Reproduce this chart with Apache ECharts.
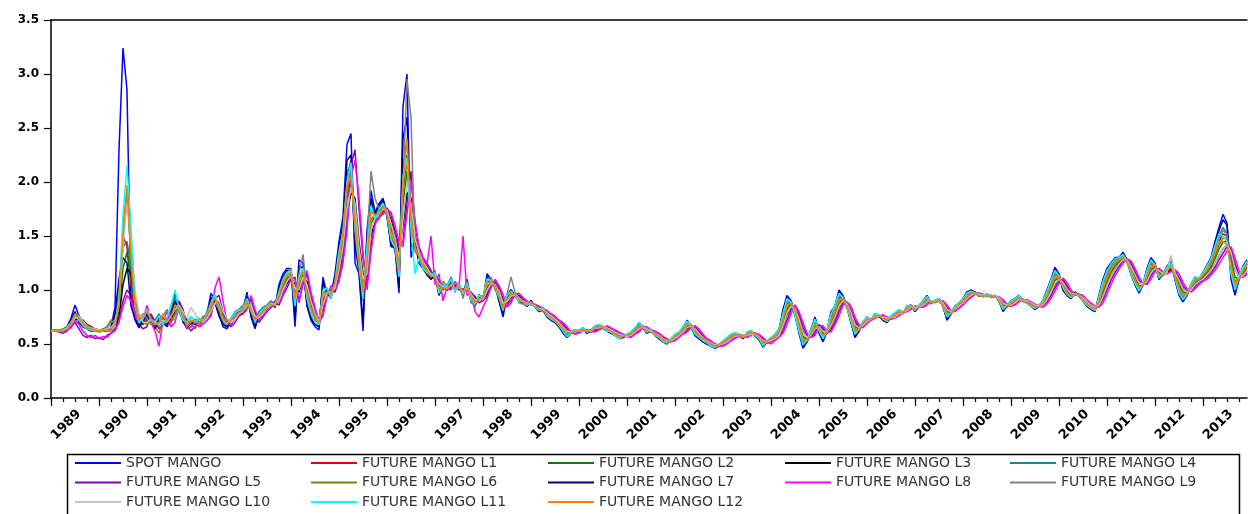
<!DOCTYPE html>
<html>
<head>
<meta charset="utf-8">
<script src="https://cdn.jsdelivr.net/npm/echarts@6/dist/echarts.min.js"></script>
<style>html,body{margin:0;padding:0;background:#fff;}#c{width:1248px;height:514px;}</style>
</head>
<body>
<div id="c"></div>
<script>
// ---- categories ----
const startYear = 1989;
const endYear = 2013;
const monthNames = ['M01','M02','M03','M04','M05','M06','M07','M08','M09','M10','M11','M12'];
const yTicks = [0.0, 0.5, 1.0, 1.5, 2.0, 2.5, 3.0, 3.5];
const seriesNames = ['SPOT MANGO','FUTURE MANGO L1','FUTURE MANGO L2','FUTURE MANGO L3','FUTURE MANGO L4','FUTURE MANGO L5','FUTURE MANGO L6','FUTURE MANGO L7','FUTURE MANGO L8','FUTURE MANGO L9','FUTURE MANGO L10','FUTURE MANGO L11','FUTURE MANGO L12'];
const seriesColors = ['#0000ff','#e00000','#008000','#000000','#108c8c','#8a00b0','#808000','#000080','#ff00ff','#808080','#c0c0c0','#00ffff','#ff8000'];

// ---- series values (monthly, 1989M01 .. 2013M12) ----
const spot = [
0.62,0.62,0.62,0.62,0.66,0.74,0.86,0.76,0.68,0.65,0.64,0.63,
0.63,0.62,0.62,0.66,0.84,2.30,3.24,2.85,0.88,0.72,0.65,0.70,
0.78,0.70,0.65,0.75,0.72,0.68,0.80,0.97,0.85,0.70,0.66,0.72,
0.68,0.70,0.74,0.78,0.97,0.90,0.78,0.66,0.64,0.72,0.78,0.80,
0.82,0.98,0.75,0.64,0.78,0.82,0.85,0.88,0.84,1.05,1.15,1.20,
1.20,0.66,1.28,1.25,0.85,0.72,0.66,0.63,1.12,0.95,0.95,1.15,
1.45,1.68,2.35,2.45,1.25,1.15,0.62,1.55,1.92,1.72,1.80,1.85,
1.70,1.40,1.40,0.97,2.70,3.00,1.30,1.45,1.25,1.20,1.15,1.10,
1.15,0.95,1.05,1.00,1.10,1.00,1.05,0.95,1.10,0.90,0.85,0.95,
0.90,1.15,1.10,1.05,0.90,0.75,0.95,1.00,0.95,0.90,0.88,0.85,
0.90,0.85,0.80,0.82,0.75,0.72,0.70,0.66,0.60,0.56,0.60,0.62,
0.62,0.64,0.60,0.62,0.66,0.68,0.65,0.62,0.60,0.58,0.55,0.56,
0.58,0.60,0.64,0.70,0.65,0.60,0.62,0.58,0.55,0.52,0.50,0.54,
0.58,0.60,0.65,0.72,0.66,0.58,0.55,0.52,0.50,0.48,0.46,0.48,
0.52,0.55,0.58,0.60,0.58,0.55,0.60,0.62,0.58,0.54,0.47,0.52,
0.55,0.58,0.62,0.82,0.95,0.90,0.78,0.60,0.46,0.52,0.62,0.75,
0.60,0.52,0.62,0.80,0.85,1.00,0.95,0.85,0.70,0.56,0.62,0.70,
0.75,0.72,0.78,0.76,0.72,0.70,0.75,0.78,0.82,0.78,0.85,0.86,
0.80,0.85,0.90,0.95,0.88,0.90,0.92,0.85,0.72,0.78,0.85,0.88,
0.92,0.98,1.00,0.98,0.95,0.95,0.96,0.94,0.95,0.90,0.80,0.85,
0.90,0.92,0.95,0.90,0.88,0.85,0.82,0.85,0.90,1.00,1.10,1.21,
1.15,1.00,0.95,0.92,0.98,0.95,0.90,0.85,0.82,0.80,0.95,1.10,
1.20,1.25,1.30,1.30,1.35,1.28,1.15,1.05,0.97,1.05,1.20,1.30,
1.25,1.10,1.15,1.22,1.26,1.10,0.95,0.89,0.95,1.05,1.12,1.10,
1.16,1.23,1.30,1.45,1.58,1.70,1.62,1.10,0.95,1.10,1.22,1.28];

const futL1 = [
0.62,0.62,0.62,0.63,0.64,0.70,0.78,0.74,0.68,0.66,0.64,0.63,
0.62,0.62,0.63,0.64,0.70,0.95,1.50,1.40,1.05,0.80,0.70,0.68,
0.74,0.72,0.66,0.70,0.74,0.70,0.76,0.88,0.84,0.74,0.68,0.70,
0.70,0.71,0.73,0.76,0.88,0.92,0.82,0.72,0.68,0.72,0.76,0.79,
0.81,0.90,0.80,0.70,0.76,0.80,0.84,0.86,0.85,0.96,1.08,1.14,
1.16,0.90,1.10,1.18,0.95,0.80,0.72,0.70,0.98,0.98,0.96,1.08,
1.30,1.55,2.05,2.20,1.60,1.25,0.95,1.30,1.75,1.70,1.72,1.78,
1.72,1.50,1.42,1.15,2.10,2.40,1.60,1.40,1.30,1.22,1.18,1.12,
1.12,1.00,1.02,1.00,1.06,1.02,1.03,0.98,1.05,0.94,0.88,0.93,
0.92,1.08,1.08,1.04,0.94,0.82,0.92,0.98,0.96,0.92,0.89,0.86,
0.88,0.86,0.82,0.81,0.77,0.74,0.71,0.68,0.63,0.59,0.60,0.62,
0.62,0.63,0.62,0.62,0.65,0.67,0.66,0.63,0.61,0.59,0.57,0.57,
0.58,0.60,0.63,0.67,0.66,0.62,0.61,0.59,0.56,0.53,0.52,0.54,
0.57,0.60,0.63,0.69,0.67,0.61,0.57,0.54,0.51,0.49,0.48,0.49,
0.52,0.54,0.57,0.59,0.58,0.56,0.59,0.61,0.59,0.55,0.50,0.52,
0.55,0.57,0.61,0.75,0.88,0.88,0.80,0.65,0.52,0.53,0.60,0.70,
0.64,0.57,0.60,0.74,0.82,0.93,0.92,0.85,0.74,0.62,0.63,0.69,
0.73,0.73,0.76,0.76,0.74,0.72,0.74,0.77,0.80,0.79,0.83,0.85,
0.82,0.84,0.88,0.92,0.89,0.89,0.90,0.86,0.77,0.78,0.83,0.87,
0.90,0.95,0.97,0.97,0.95,0.94,0.95,0.94,0.94,0.91,0.84,0.85,
0.88,0.90,0.93,0.91,0.88,0.86,0.84,0.85,0.88,0.96,1.05,1.14,
1.13,1.04,0.97,0.94,0.96,0.95,0.91,0.87,0.84,0.82,0.91,1.03,
1.13,1.20,1.25,1.28,1.30,1.26,1.17,1.08,1.01,1.04,1.14,1.24,
1.23,1.14,1.14,1.19,1.22,1.13,1.01,0.94,0.96,1.03,1.09,1.10,
1.14,1.19,1.25,1.35,1.45,1.52,1.50,1.22,1.05,1.10,1.18,1.24];

const futL2 = [
0.62,0.62,0.63,0.62,0.63,0.67,0.74,0.76,0.70,0.67,0.65,0.63,
0.62,0.63,0.62,0.63,0.67,0.80,1.20,1.35,1.10,0.85,0.72,0.68,
0.72,0.74,0.68,0.68,0.73,0.72,0.74,0.84,0.86,0.76,0.70,0.69,
0.70,0.70,0.72,0.75,0.84,0.92,0.85,0.75,0.70,0.71,0.75,0.78,
0.80,0.87,0.84,0.74,0.74,0.79,0.83,0.86,0.86,0.92,1.03,1.10,
1.14,0.98,1.02,1.15,1.02,0.86,0.76,0.70,0.90,0.98,0.96,1.04,
1.22,1.45,1.85,2.05,1.75,1.35,1.05,1.20,1.62,1.68,1.70,1.76,
1.74,1.58,1.46,1.25,1.80,2.10,1.75,1.45,1.33,1.25,1.20,1.14,
1.12,1.04,1.02,1.01,1.04,1.03,1.02,0.99,1.03,0.96,0.90,0.92,
0.92,1.02,1.07,1.05,0.97,0.86,0.90,0.96,0.96,0.93,0.90,0.87,
0.87,0.86,0.83,0.81,0.78,0.75,0.72,0.69,0.65,0.61,0.60,0.61,
0.62,0.63,0.62,0.62,0.64,0.66,0.66,0.64,0.62,0.60,0.58,0.57,
0.58,0.59,0.62,0.65,0.66,0.63,0.61,0.60,0.57,0.54,0.53,0.54,
0.56,0.59,0.62,0.66,0.67,0.63,0.59,0.55,0.52,0.50,0.49,0.49,
0.51,0.53,0.56,0.58,0.58,0.57,0.58,0.60,0.59,0.56,0.52,0.52,
0.54,0.56,0.60,0.70,0.82,0.87,0.82,0.70,0.57,0.54,0.58,0.66,
0.66,0.60,0.60,0.69,0.78,0.88,0.91,0.86,0.77,0.66,0.64,0.68,
0.72,0.73,0.75,0.76,0.75,0.73,0.74,0.76,0.79,0.79,0.82,0.84,
0.83,0.84,0.87,0.90,0.89,0.89,0.90,0.87,0.80,0.79,0.82,0.86,
0.89,0.93,0.96,0.97,0.95,0.94,0.95,0.94,0.94,0.92,0.86,0.85,
0.87,0.89,0.92,0.91,0.89,0.87,0.85,0.85,0.87,0.93,1.01,1.09,
1.11,1.06,0.99,0.95,0.96,0.95,0.92,0.88,0.85,0.83,0.88,0.98,
1.08,1.16,1.22,1.26,1.29,1.27,1.20,1.11,1.04,1.04,1.10,1.19,
1.21,1.16,1.14,1.17,1.20,1.15,1.05,0.98,0.97,1.01,1.07,1.09,
1.12,1.16,1.21,1.29,1.38,1.44,1.46,1.30,1.12,1.10,1.15,1.21];

const futL3 = [
0.62,0.62,0.62,0.64,0.65,0.68,0.72,0.74,0.72,0.68,0.66,0.64,
0.63,0.62,0.63,0.62,0.65,0.75,1.05,1.20,1.15,0.90,0.76,0.70,
0.70,0.75,0.72,0.68,0.70,0.74,0.72,0.80,0.88,0.80,0.72,0.68,
0.70,0.69,0.71,0.74,0.80,0.90,0.88,0.78,0.72,0.70,0.74,0.77,
0.79,0.84,0.87,0.78,0.73,0.77,0.82,0.85,0.87,0.89,0.98,1.06,
1.12,1.05,0.98,1.10,1.08,0.92,0.80,0.72,0.84,0.96,0.97,1.00,
1.15,1.35,1.70,1.90,1.85,1.45,1.15,1.12,1.50,1.65,1.68,1.74,
1.75,1.65,1.50,1.35,1.60,1.90,1.85,1.50,1.36,1.28,1.22,1.16,
1.12,1.07,1.03,1.01,1.03,1.03,1.02,1.00,1.02,0.97,0.92,0.91,
0.91,0.97,1.05,1.06,1.00,0.90,0.88,0.93,0.96,0.94,0.91,0.88,
0.87,0.85,0.84,0.82,0.79,0.76,0.73,0.70,0.67,0.63,0.61,0.61,
0.62,0.62,0.62,0.62,0.63,0.65,0.66,0.65,0.63,0.61,0.59,0.58,
0.57,0.58,0.61,0.64,0.66,0.64,0.62,0.60,0.58,0.55,0.53,0.53,
0.55,0.58,0.61,0.64,0.67,0.65,0.61,0.57,0.53,0.51,0.49,0.49,
0.50,0.52,0.55,0.57,0.58,0.57,0.58,0.59,0.59,0.57,0.53,0.52,
0.53,0.55,0.58,0.66,0.77,0.85,0.84,0.74,0.62,0.56,0.57,0.63,
0.67,0.63,0.61,0.66,0.74,0.84,0.90,0.87,0.79,0.69,0.65,0.67,
0.71,0.73,0.74,0.76,0.75,0.74,0.74,0.75,0.78,0.79,0.81,0.84,
0.84,0.84,0.86,0.89,0.89,0.89,0.90,0.88,0.82,0.80,0.82,0.85,
0.88,0.92,0.95,0.97,0.96,0.95,0.95,0.94,0.94,0.93,0.88,0.86,
0.86,0.88,0.91,0.91,0.90,0.88,0.86,0.85,0.86,0.91,0.98,1.05,
1.10,1.08,1.02,0.97,0.96,0.95,0.93,0.89,0.86,0.84,0.86,0.94,
1.04,1.12,1.19,1.24,1.28,1.28,1.23,1.14,1.07,1.05,1.08,1.16,
1.20,1.18,1.15,1.16,1.19,1.16,1.09,1.01,0.98,1.00,1.05,1.08,
1.10,1.14,1.18,1.24,1.32,1.38,1.42,1.35,1.20,1.12,1.13,1.18];

const futL4 = [
0.62,0.63,0.62,0.63,0.66,0.70,0.76,0.72,0.66,0.64,0.63,0.62,
0.61,0.62,0.64,0.63,0.70,1.00,1.40,1.45,1.20,0.82,0.70,0.75,
0.80,0.68,0.72,0.78,0.70,0.72,0.82,0.94,0.80,0.72,0.70,0.75,
0.72,0.74,0.70,0.80,0.92,0.95,0.80,0.70,0.66,0.74,0.80,0.82,
0.84,0.95,0.78,0.70,0.80,0.84,0.86,0.90,0.86,1.00,1.12,1.18,
1.18,0.80,1.20,1.22,0.90,0.76,0.70,0.68,1.05,1.00,0.92,1.10,
1.38,1.60,2.10,2.15,1.50,1.20,0.90,1.45,1.80,1.65,1.75,1.82,
1.68,1.45,1.38,1.10,2.20,2.25,1.50,1.48,1.28,1.20,1.15,1.15,
1.18,0.98,1.05,1.02,1.12,0.98,1.06,0.96,1.08,0.92,0.86,0.96,
0.92,1.12,1.10,1.02,0.92,0.80,0.96,1.00,0.94,0.90,0.90,0.86,
0.89,0.84,0.80,0.84,0.76,0.73,0.71,0.67,0.62,0.58,0.61,0.63,
0.63,0.65,0.61,0.63,0.67,0.68,0.64,0.62,0.61,0.58,0.56,0.57,
0.59,0.61,0.65,0.69,0.64,0.61,0.63,0.58,0.56,0.53,0.51,0.55,
0.59,0.61,0.66,0.70,0.65,0.59,0.56,0.53,0.51,0.48,0.47,0.49,
0.53,0.56,0.59,0.60,0.57,0.56,0.61,0.62,0.57,0.54,0.49,0.53,
0.56,0.59,0.64,0.80,0.92,0.88,0.76,0.62,0.50,0.54,0.64,0.74,
0.62,0.55,0.63,0.78,0.86,0.96,0.92,0.83,0.70,0.59,0.64,0.71,
0.74,0.72,0.77,0.77,0.73,0.71,0.76,0.79,0.81,0.78,0.84,0.86,
0.81,0.86,0.90,0.93,0.87,0.90,0.92,0.84,0.75,0.79,0.85,0.88,
0.91,0.97,0.99,0.97,0.94,0.95,0.96,0.93,0.95,0.89,0.82,0.86,
0.90,0.91,0.94,0.89,0.88,0.85,0.83,0.86,0.90,0.99,1.08,1.17,
1.12,1.01,0.96,0.93,0.97,0.94,0.90,0.86,0.83,0.81,0.94,1.07,
1.17,1.23,1.28,1.29,1.32,1.26,1.14,1.06,0.99,1.06,1.18,1.27,
1.22,1.11,1.16,1.21,1.24,1.10,0.98,0.92,0.97,1.05,1.11,1.11,
1.16,1.21,1.28,1.40,1.50,1.58,1.52,1.18,1.00,1.12,1.20,1.26];

const futL5 = [
0.62,0.62,0.61,0.60,0.62,0.66,0.70,0.64,0.58,0.56,0.58,0.55,
0.56,0.54,0.58,0.60,0.64,0.72,0.90,1.00,0.95,0.80,0.68,0.64,
0.66,0.78,0.70,0.64,0.68,0.75,0.70,0.78,0.90,0.82,0.68,0.62,
0.66,0.68,0.70,0.72,0.76,0.92,0.95,0.80,0.70,0.66,0.70,0.76,
0.78,0.82,0.92,0.80,0.70,0.75,0.80,0.84,0.88,0.86,0.95,1.02,
1.10,1.12,0.90,1.05,1.15,0.95,0.82,0.70,0.78,0.96,1.00,0.98,
1.10,1.28,1.60,2.15,2.30,1.75,1.30,1.05,1.40,1.62,1.66,1.72,
1.76,1.70,1.55,1.40,1.45,1.80,2.10,1.60,1.40,1.30,1.25,1.18,
1.10,1.10,1.02,1.00,1.02,1.05,1.00,1.01,1.00,0.98,0.94,0.88,
0.90,0.94,1.04,1.08,1.02,0.92,0.86,0.90,0.96,0.95,0.92,0.89,
0.86,0.86,0.84,0.82,0.80,0.77,0.74,0.71,0.68,0.64,0.60,0.60,
0.61,0.62,0.63,0.61,0.62,0.64,0.66,0.66,0.64,0.62,0.60,0.58,
0.57,0.57,0.60,0.62,0.66,0.65,0.62,0.61,0.59,0.56,0.54,0.52,
0.54,0.57,0.60,0.62,0.66,0.66,0.62,0.58,0.54,0.52,0.50,0.48,
0.49,0.51,0.54,0.56,0.58,0.58,0.57,0.59,0.60,0.58,0.55,0.51,
0.52,0.54,0.57,0.62,0.72,0.82,0.86,0.78,0.66,0.58,0.56,0.60,
0.68,0.65,0.60,0.63,0.70,0.80,0.88,0.88,0.82,0.72,0.66,0.66,
0.70,0.73,0.74,0.76,0.76,0.74,0.73,0.75,0.77,0.79,0.80,0.83,
0.85,0.84,0.85,0.88,0.90,0.89,0.90,0.89,0.84,0.80,0.81,0.84,
0.87,0.91,0.94,0.97,0.97,0.95,0.95,0.95,0.94,0.93,0.90,0.86,
0.85,0.87,0.90,0.91,0.90,0.89,0.86,0.85,0.85,0.89,0.95,1.02,
1.08,1.10,1.04,0.98,0.96,0.96,0.94,0.90,0.87,0.84,0.85,0.91,
1.00,1.09,1.16,1.22,1.27,1.29,1.25,1.17,1.09,1.05,1.06,1.13,
1.19,1.19,1.16,1.15,1.18,1.18,1.12,1.04,0.99,0.99,1.03,1.07,
1.09,1.12,1.16,1.21,1.28,1.34,1.40,1.38,1.25,1.14,1.12,1.16];

const futL6 = [
0.62,0.63,0.62,0.64,0.66,0.68,0.74,0.76,0.70,0.66,0.65,0.64,
0.63,0.64,0.66,0.72,0.74,0.90,1.60,1.90,1.30,0.90,0.74,0.70,
0.68,0.72,0.66,0.60,0.72,0.66,0.70,0.78,0.86,0.76,0.70,0.68,
0.64,0.70,0.72,0.76,0.82,0.90,0.86,0.76,0.70,0.68,0.74,0.80,
0.84,0.86,0.82,0.74,0.76,0.80,0.84,0.86,0.88,0.94,1.04,1.12,
1.14,0.96,1.06,1.12,1.00,0.84,0.74,0.72,0.92,0.96,0.94,1.02,
1.25,1.50,1.90,2.10,1.70,1.30,1.00,1.25,1.65,1.70,1.66,1.75,
1.72,1.55,1.48,1.20,1.90,2.20,1.70,1.42,1.32,1.24,1.20,1.12,
1.10,1.04,1.00,1.02,1.06,1.01,1.04,0.97,1.04,0.95,0.89,0.92,
0.93,1.04,1.06,1.06,0.96,0.84,0.89,0.97,0.97,0.92,0.88,0.88,
0.88,0.85,0.82,0.80,0.78,0.75,0.71,0.70,0.64,0.60,0.61,0.61,
0.63,0.62,0.62,0.63,0.65,0.67,0.65,0.64,0.61,0.60,0.57,0.58,
0.57,0.59,0.62,0.66,0.67,0.62,0.62,0.59,0.57,0.53,0.52,0.53,
0.56,0.58,0.62,0.67,0.68,0.62,0.58,0.55,0.51,0.50,0.48,0.50,
0.51,0.53,0.57,0.58,0.59,0.56,0.58,0.60,0.60,0.56,0.51,0.51,
0.54,0.56,0.60,0.72,0.84,0.88,0.82,0.68,0.55,0.53,0.59,0.68,
0.65,0.58,0.61,0.71,0.80,0.90,0.92,0.86,0.75,0.64,0.63,0.68,
0.72,0.72,0.76,0.75,0.74,0.73,0.75,0.76,0.80,0.80,0.82,0.85,
0.82,0.85,0.88,0.91,0.90,0.88,0.90,0.87,0.79,0.78,0.83,0.86,
0.90,0.94,0.96,0.98,0.96,0.94,0.94,0.95,0.94,0.91,0.85,0.84,
0.88,0.89,0.92,0.92,0.88,0.86,0.84,0.86,0.87,0.94,1.03,1.11,
1.12,1.05,0.98,0.95,0.95,0.96,0.92,0.87,0.85,0.82,0.89,1.00,
1.10,1.18,1.24,1.27,1.30,1.28,1.19,1.10,1.02,1.04,1.12,1.21,
1.22,1.15,1.13,1.18,1.21,1.14,1.03,0.96,0.96,1.02,1.08,1.10,
1.13,1.17,1.23,1.32,1.41,1.48,1.48,1.26,1.08,1.11,1.16,1.23];

const futL7 = [
0.62,0.62,0.62,0.62,0.64,0.72,0.80,0.70,0.66,0.64,0.62,0.62,
0.62,0.63,0.62,0.64,0.78,1.10,1.30,1.25,0.85,0.74,0.66,0.72,
0.76,0.70,0.64,0.72,0.70,0.66,0.78,0.90,0.82,0.72,0.64,0.70,
0.68,0.72,0.74,0.76,0.93,0.88,0.76,0.68,0.66,0.72,0.78,0.80,
0.80,0.94,0.78,0.66,0.78,0.82,0.85,0.88,0.84,1.02,1.12,1.18,
1.18,0.75,1.22,1.20,0.86,0.74,0.68,0.66,1.08,0.96,0.94,1.12,
1.40,1.60,2.20,2.25,1.40,1.18,0.70,1.48,1.85,1.70,1.78,1.84,
1.68,1.42,1.38,1.02,2.40,2.60,1.40,1.44,1.26,1.20,1.14,1.10,
1.14,0.96,1.04,1.00,1.10,1.00,1.04,0.95,1.08,0.90,0.86,0.94,
0.90,1.12,1.10,1.04,0.90,0.78,0.94,1.00,0.95,0.90,0.88,0.85,
0.90,0.84,0.80,0.82,0.75,0.72,0.70,0.66,0.61,0.57,0.60,0.62,
0.62,0.64,0.60,0.62,0.66,0.68,0.65,0.62,0.60,0.58,0.56,0.56,
0.58,0.60,0.64,0.69,0.65,0.60,0.62,0.58,0.55,0.52,0.51,0.54,
0.58,0.60,0.65,0.71,0.66,0.58,0.55,0.52,0.50,0.48,0.47,0.48,
0.52,0.55,0.58,0.60,0.58,0.55,0.60,0.62,0.58,0.54,0.48,0.52,
0.55,0.58,0.62,0.80,0.93,0.90,0.78,0.61,0.48,0.52,0.62,0.74,
0.61,0.53,0.62,0.79,0.85,0.98,0.94,0.85,0.70,0.57,0.62,0.70,
0.75,0.72,0.78,0.76,0.72,0.70,0.75,0.78,0.82,0.78,0.85,0.86,
0.80,0.85,0.90,0.94,0.88,0.90,0.92,0.85,0.73,0.78,0.85,0.88,
0.92,0.98,0.99,0.98,0.95,0.95,0.96,0.94,0.95,0.90,0.81,0.85,
0.90,0.92,0.95,0.90,0.88,0.85,0.82,0.85,0.90,1.00,1.09,1.19,
1.14,1.00,0.95,0.92,0.98,0.95,0.90,0.85,0.82,0.80,0.95,1.09,
1.19,1.24,1.29,1.30,1.34,1.28,1.15,1.05,0.98,1.05,1.19,1.29,
1.24,1.10,1.15,1.22,1.25,1.10,0.96,0.90,0.95,1.05,1.12,1.10,
1.16,1.22,1.29,1.43,1.55,1.65,1.60,1.14,0.98,1.10,1.21,1.27];

const futL8 = [
0.62,0.62,0.62,0.61,0.63,0.65,0.72,0.68,0.62,0.58,0.56,0.58,
0.55,0.57,0.56,0.60,0.62,0.70,0.85,0.95,0.90,0.78,0.70,0.72,
0.86,0.70,0.62,0.48,0.72,0.80,0.66,0.70,0.85,0.76,0.64,0.66,
0.70,0.66,0.68,0.72,0.78,1.02,1.12,0.90,0.70,0.68,0.74,0.78,
0.80,0.84,0.95,0.82,0.72,0.76,0.80,0.86,0.90,0.88,0.96,1.08,
1.12,1.10,0.88,1.08,1.18,0.98,0.84,0.70,0.76,0.94,1.04,1.00,
1.08,1.25,1.55,2.05,2.20,1.85,1.35,1.00,1.35,1.60,1.70,1.70,
1.75,1.72,1.60,1.45,1.40,1.70,2.00,1.65,1.38,1.28,1.24,1.50,
1.05,1.15,0.90,1.02,1.00,1.08,1.02,1.50,0.95,0.98,0.80,0.75,
0.84,0.92,1.02,1.10,1.04,0.96,0.84,0.88,0.96,0.97,0.93,0.90,
0.86,0.87,0.85,0.83,0.81,0.78,0.76,0.72,0.70,0.66,0.61,0.59,
0.60,0.62,0.63,0.62,0.61,0.63,0.65,0.67,0.65,0.63,0.61,0.59,
0.57,0.56,0.59,0.61,0.65,0.66,0.63,0.62,0.60,0.57,0.55,0.52,
0.53,0.56,0.59,0.61,0.65,0.67,0.64,0.59,0.55,0.53,0.50,0.48,
0.48,0.50,0.53,0.55,0.57,0.58,0.56,0.58,0.60,0.59,0.56,0.52,
0.50,0.53,0.56,0.60,0.68,0.78,0.86,0.80,0.70,0.60,0.56,0.58,
0.66,0.67,0.61,0.61,0.68,0.76,0.86,0.89,0.85,0.75,0.68,0.65,
0.69,0.72,0.74,0.76,0.77,0.75,0.73,0.74,0.76,0.79,0.80,0.82,
0.85,0.85,0.84,0.86,0.90,0.90,0.89,0.90,0.86,0.81,0.80,0.83,
0.86,0.90,0.93,0.96,0.97,0.96,0.95,0.95,0.94,0.94,0.91,0.87,
0.85,0.86,0.89,0.91,0.91,0.89,0.87,0.85,0.84,0.87,0.92,0.99,
1.06,1.11,1.07,1.00,0.96,0.96,0.95,0.91,0.88,0.85,0.84,0.88,
0.96,1.05,1.13,1.19,1.25,1.29,1.27,1.20,1.12,1.06,1.05,1.10,
1.17,1.20,1.17,1.15,1.17,1.19,1.15,1.07,1.01,0.98,1.01,1.05,
1.08,1.10,1.14,1.18,1.24,1.30,1.36,1.40,1.30,1.18,1.12,1.14];

const futL9 = [
0.62,0.62,0.63,0.62,0.65,0.70,0.78,0.76,0.70,0.66,0.64,0.63,
0.62,0.64,0.65,0.70,0.72,0.85,1.50,1.93,1.40,0.95,0.75,0.78,
0.74,0.68,0.72,0.66,0.76,0.82,0.74,0.72,0.86,0.78,0.66,0.70,
0.72,0.68,0.76,0.74,0.84,0.88,0.82,0.74,0.72,0.70,0.78,0.82,
0.86,0.82,0.88,0.72,0.76,0.84,0.86,0.88,0.86,0.98,1.10,1.16,
1.20,0.92,1.15,1.33,0.98,0.82,0.72,0.70,0.96,1.02,0.94,1.06,
1.35,1.52,1.95,2.15,1.55,1.28,1.02,1.40,2.10,1.85,1.75,1.80,
1.72,1.48,1.45,1.25,1.95,2.95,2.60,1.35,1.32,1.22,1.16,1.12,
1.15,0.98,1.08,1.04,1.12,1.00,1.06,0.92,1.06,0.88,0.86,0.95,
0.94,1.10,1.12,1.00,0.94,0.86,0.96,1.12,0.98,0.88,0.87,0.86,
0.88,0.85,0.82,0.84,0.77,0.74,0.72,0.68,0.63,0.60,0.62,0.63,
0.62,0.65,0.62,0.63,0.66,0.68,0.66,0.63,0.61,0.59,0.56,0.57,
0.59,0.61,0.64,0.68,0.66,0.61,0.62,0.59,0.56,0.53,0.52,0.55,
0.58,0.61,0.64,0.70,0.68,0.60,0.57,0.53,0.51,0.49,0.47,0.49,
0.52,0.55,0.58,0.60,0.59,0.56,0.60,0.62,0.59,0.55,0.50,0.52,
0.56,0.58,0.62,0.76,0.90,0.89,0.80,0.64,0.51,0.53,0.61,0.72,
0.63,0.56,0.61,0.76,0.84,0.95,0.93,0.86,0.73,0.60,0.63,0.70,
0.74,0.73,0.77,0.77,0.74,0.72,0.75,0.78,0.81,0.79,0.84,0.86,
0.82,0.85,0.89,0.93,0.89,0.90,0.91,0.86,0.76,0.79,0.84,0.88,
0.91,0.96,0.98,0.98,0.95,0.95,0.96,0.94,0.95,0.91,0.83,0.86,
0.89,0.91,0.94,0.90,0.88,0.86,0.83,0.86,0.89,0.97,1.07,1.15,
1.13,1.03,0.97,0.93,0.97,0.95,0.91,0.86,0.84,0.82,0.92,1.05,
1.15,1.22,1.27,1.29,1.31,1.27,1.16,1.07,1.00,1.05,1.16,1.26,
1.24,1.13,1.15,1.20,1.30,1.12,1.00,0.93,0.96,1.04,1.10,1.11,
1.15,1.20,1.26,1.38,1.48,1.55,1.52,1.20,1.03,1.11,1.19,1.25];

const futL10 = [
0.62,0.62,0.62,0.63,0.64,0.68,0.74,0.75,0.71,0.67,0.65,0.64,
0.63,0.63,0.64,0.65,0.70,0.88,1.40,1.80,1.50,1.00,0.78,0.70,
0.70,0.73,0.70,0.68,0.72,0.70,0.76,0.82,0.86,0.80,0.74,0.84,
0.78,0.72,0.70,0.74,0.80,0.88,0.90,0.80,0.74,0.70,0.73,0.78,
0.80,0.86,0.86,0.76,0.74,0.78,0.83,0.86,0.87,0.90,1.00,1.08,
1.13,1.02,1.00,1.12,1.05,0.90,0.78,0.71,0.86,0.97,0.98,1.02,
1.18,1.40,1.75,1.95,1.80,1.40,1.10,1.15,1.55,1.66,1.70,1.75,
1.74,1.62,1.48,1.30,1.65,2.00,1.80,1.48,1.35,1.26,1.21,1.15,
1.12,1.06,1.03,1.01,1.04,1.02,1.02,0.99,1.02,0.96,0.91,0.91,
0.91,0.99,1.06,1.05,0.99,0.88,0.89,0.94,0.96,0.93,0.90,0.88,
0.87,0.85,0.83,0.82,0.79,0.76,0.73,0.70,0.66,0.62,0.61,0.61,
0.62,0.62,0.62,0.62,0.64,0.65,0.66,0.65,0.63,0.61,0.59,0.58,
0.57,0.58,0.61,0.64,0.66,0.64,0.62,0.60,0.58,0.55,0.53,0.53,
0.55,0.58,0.61,0.65,0.67,0.64,0.60,0.56,0.53,0.51,0.49,0.49,
0.50,0.52,0.55,0.57,0.58,0.57,0.58,0.59,0.59,0.57,0.53,0.52,
0.53,0.55,0.58,0.67,0.78,0.85,0.83,0.73,0.61,0.56,0.58,0.64,
0.66,0.62,0.61,0.67,0.75,0.85,0.90,0.87,0.79,0.68,0.65,0.67,
0.71,0.73,0.75,0.76,0.75,0.74,0.74,0.75,0.78,0.79,0.81,0.84,
0.84,0.84,0.86,0.89,0.90,0.89,0.90,0.88,0.82,0.80,0.82,0.85,
0.88,0.92,0.95,0.97,0.96,0.95,0.95,0.94,0.94,0.93,0.88,0.86,
0.86,0.88,0.91,0.91,0.90,0.88,0.86,0.85,0.86,0.91,0.98,1.06,
1.10,1.07,1.01,0.97,0.96,0.95,0.93,0.89,0.86,0.84,0.86,0.94,
1.04,1.12,1.19,1.24,1.28,1.28,1.22,1.14,1.07,1.05,1.08,1.16,
1.20,1.18,1.15,1.16,1.32,1.16,1.09,1.01,0.98,1.00,1.05,1.08,
1.10,1.14,1.18,1.24,1.32,1.38,1.42,1.35,1.20,1.12,1.13,1.18];

const futL11 = [
0.62,0.62,0.62,0.63,0.65,0.70,0.76,0.72,0.67,0.64,0.63,0.62,
0.62,0.62,0.63,0.62,0.66,0.92,1.70,2.15,1.60,0.85,0.70,0.74,
0.82,0.72,0.70,0.76,0.68,0.74,0.86,1.00,0.82,0.72,0.70,0.76,
0.70,0.74,0.72,0.78,0.88,0.96,0.84,0.72,0.68,0.74,0.79,0.81,
0.83,0.92,0.82,0.70,0.78,0.82,0.85,0.88,0.86,0.98,1.10,1.16,
1.18,0.85,1.12,1.20,0.92,0.78,0.70,0.68,1.00,1.02,0.93,1.08,
1.35,1.55,2.00,2.18,1.58,1.22,0.92,1.38,1.78,1.66,1.74,1.80,
1.70,1.46,1.40,1.12,2.05,2.22,1.55,1.15,1.30,1.20,1.16,1.14,
1.16,0.97,1.04,1.03,1.10,0.99,1.05,0.96,1.07,0.91,0.87,0.95,
0.92,1.10,1.09,1.03,0.93,0.81,0.95,0.99,0.95,0.90,0.89,0.86,
0.89,0.84,0.81,0.83,0.76,0.73,0.71,0.67,0.62,0.57,0.60,0.63,
0.63,0.65,0.61,0.62,0.67,0.68,0.65,0.62,0.61,0.58,0.55,0.57,
0.59,0.61,0.65,0.70,0.65,0.61,0.63,0.58,0.56,0.52,0.51,0.55,
0.59,0.61,0.66,0.71,0.66,0.59,0.56,0.53,0.51,0.48,0.47,0.49,
0.53,0.56,0.59,0.61,0.58,0.56,0.61,0.63,0.58,0.55,0.48,0.53,
0.56,0.59,0.63,0.78,0.92,0.89,0.77,0.62,0.49,0.54,0.63,0.73,
0.62,0.55,0.63,0.78,0.86,0.97,0.93,0.84,0.71,0.59,0.64,0.71,
0.75,0.73,0.78,0.77,0.73,0.71,0.76,0.79,0.82,0.79,0.85,0.86,
0.81,0.86,0.90,0.94,0.88,0.91,0.92,0.85,0.75,0.79,0.85,0.88,
0.92,0.97,0.99,0.97,0.95,0.95,0.96,0.94,0.95,0.90,0.82,0.86,
0.90,0.92,0.95,0.90,0.88,0.85,0.83,0.86,0.90,0.99,1.09,1.18,
1.13,1.02,0.96,0.93,0.97,0.95,0.90,0.86,0.83,0.81,0.94,1.08,
1.18,1.24,1.29,1.30,1.33,1.27,1.15,1.06,0.99,1.06,1.18,1.28,
1.23,1.11,1.16,1.21,1.25,1.11,0.97,0.91,0.96,1.05,1.12,1.11,
1.16,1.22,1.29,1.41,1.52,1.50,1.45,1.15,1.00,1.12,1.21,1.27];

const futL12 = [
0.62,0.62,0.62,0.62,0.64,0.69,0.77,0.74,0.69,0.66,0.64,0.63,
0.62,0.63,0.62,0.63,0.68,0.86,1.50,1.97,1.30,0.86,0.72,0.76,
0.80,0.74,0.68,0.70,0.78,0.70,0.75,0.86,0.84,0.76,0.68,0.72,
0.71,0.70,0.73,0.77,0.86,0.93,0.83,0.73,0.69,0.72,0.76,0.79,
0.81,0.90,0.80,0.72,0.77,0.80,0.84,0.87,0.85,0.95,1.07,1.14,
1.16,0.92,1.08,1.17,0.96,0.82,0.73,0.70,0.96,0.98,0.96,1.07,
1.28,1.52,1.98,2.05,1.62,1.26,0.98,1.28,1.72,1.70,1.70,1.77,
1.72,1.52,1.44,1.18,2.00,2.40,1.65,1.40,1.31,1.23,1.18,1.13,
1.12,1.01,1.02,1.01,1.05,1.02,1.03,0.98,1.04,0.94,0.88,0.92,
0.92,1.06,1.08,1.04,0.95,0.83,0.91,0.97,0.96,0.92,0.89,0.87,
0.88,0.86,0.82,0.81,0.78,0.74,0.72,0.68,0.64,0.60,0.60,0.62,
0.62,0.63,0.62,0.62,0.65,0.66,0.66,0.64,0.62,0.59,0.57,0.57,
0.58,0.60,0.62,0.66,0.66,0.62,0.61,0.59,0.57,0.54,0.52,0.54,
0.57,0.59,0.63,0.68,0.67,0.62,0.58,0.55,0.52,0.50,0.48,0.49,
0.52,0.54,0.57,0.59,0.58,0.56,0.59,0.61,0.59,0.56,0.51,0.52,
0.55,0.57,0.61,0.73,0.86,0.88,0.81,0.67,0.54,0.54,0.59,0.68,
0.65,0.58,0.61,0.72,0.81,0.91,0.92,0.85,0.75,0.63,0.63,0.69,
0.73,0.73,0.76,0.76,0.74,0.72,0.74,0.77,0.80,0.79,0.83,0.85,
0.82,0.84,0.88,0.91,0.89,0.89,0.90,0.86,0.78,0.78,0.83,0.87,
0.90,0.95,0.97,0.97,0.95,0.94,0.95,0.94,0.94,0.91,0.85,0.85,
0.88,0.90,0.93,0.91,0.88,0.86,0.84,0.85,0.88,0.95,1.04,1.12,
1.12,1.04,0.97,0.94,0.96,0.95,0.91,0.87,0.84,0.82,0.90,1.02,
1.12,1.19,1.25,1.28,1.30,1.27,1.18,1.09,1.02,1.04,1.13,1.23,
1.23,1.14,1.14,1.19,1.22,1.13,1.02,0.95,0.96,1.03,1.09,1.10,
1.14,1.19,1.25,1.35,1.45,1.45,1.42,1.22,1.05,1.10,1.18,1.24];

const allSeries = [spot, futL1, futL2, futL3, futL4, futL5, futL6, futL7, futL8, futL9, futL10, futL11, futL12];

// legend columns (series indices)
const legendColumns = [[0,5,10],[1,6,11],[2,7,12],[3,8],[4,9]];
const legendLefts = [75, 311, 548, 785, 1010];

// month categories
const months = [];
for (let y = startYear; y <= endYear; y++) {
  for (let m = 0; m < 12; m++) months.push(y + monthNames[m]);
}

const chart = echarts.init(document.getElementById('c'), null, {renderer: 'canvas'});
const yLabelFont = {fontFamily: 'DejaVu Sans', fontWeight: 'bold', fontSize: 12, color: '#000'};
const xLabelFont = {fontFamily: 'DejaVu Sans', fontWeight: 'bold', fontSize: 13, color: '#000'};

const option = {
  animation: false,
  backgroundColor: '#fff',
  grid: {left: 51, top: 20, right: 1, bottom: 116, containLabel: false},
  xAxis: [
    {
      type: 'category', data: months, boundaryGap: false, position: 'bottom',
      axisLine: {show: true, lineStyle: {color: '#000', width: 1.5}},
      axisTick: {show: true, length: 4, lineStyle: {color: '#000', width: 1.2},
                 interval: function (i) { return i % 3 === 0; }},
      axisLabel: {show: false},
      splitLine: {show: false}
    },
    {
      type: 'category', data: months, boundaryGap: false, position: 'bottom',
      axisLine: {show: false},
      axisTick: {show: true, length: 8, lineStyle: {color: '#000', width: 1.2},
                 interval: function (i) { return i % 12 === 0; }},
      axisLabel: Object.assign({
        show: true, rotate: 45, margin: 14,
        interval: function (i) { return i % 12 === 7; },
        formatter: function (v) { return v.slice(0, 4); }
      }, xLabelFont),
      splitLine: {show: false}
    },
    {
      type: 'category', data: months, boundaryGap: false, position: 'top',
      axisLine: {show: true, lineStyle: {color: '#000', width: 1.5}},
      axisTick: {show: false}, axisLabel: {show: false}, splitLine: {show: false}
    }
  ],
  yAxis: {
    type: 'value', min: 0, max: 3.5, interval: 0.5,
    axisLine: {show: true, lineStyle: {color: '#000', width: 1.5}},
    axisTick: {show: true, length: 7, lineStyle: {color: '#000', width: 1.2}},
    axisLabel: Object.assign({margin: 12, formatter: function (v) { return v.toFixed(1); }}, yLabelFont),
    splitLine: {show: false}
  },
  legend: legendColumns.map(function (col, k) {
    return {
      orient: 'vertical', left: legendLefts[k], top: 455, padding: 0,
      itemWidth: 46, itemHeight: 2, itemGap: 3.5, icon: 'rect',
      selectedMode: false,
      textStyle: {fontFamily: 'DejaVu Sans', fontSize: 14, color: '#333', lineHeight: 16},
      data: col.map(function (i) { return seriesNames[i]; })
    };
  }),
  graphic: [{
    type: 'rect', left: 65, top: 452, z: -1,
    shape: {width: 1172, height: 80},
    style: {fill: 'none', stroke: '#000', lineWidth: 1.5}
  }],
  series: allSeries.map(function (arr, i) {
    return {
      name: seriesNames[i], type: 'line', data: arr, xAxisIndex: 0, yAxisIndex: 0,
      symbol: 'none', showSymbol: false,
      lineStyle: {color: seriesColors[i], width: 1.5},
      itemStyle: {color: seriesColors[i]},
      emphasis: {disabled: true}
    };
  })
};
chart.setOption(option);
</script>
</body>
</html>
